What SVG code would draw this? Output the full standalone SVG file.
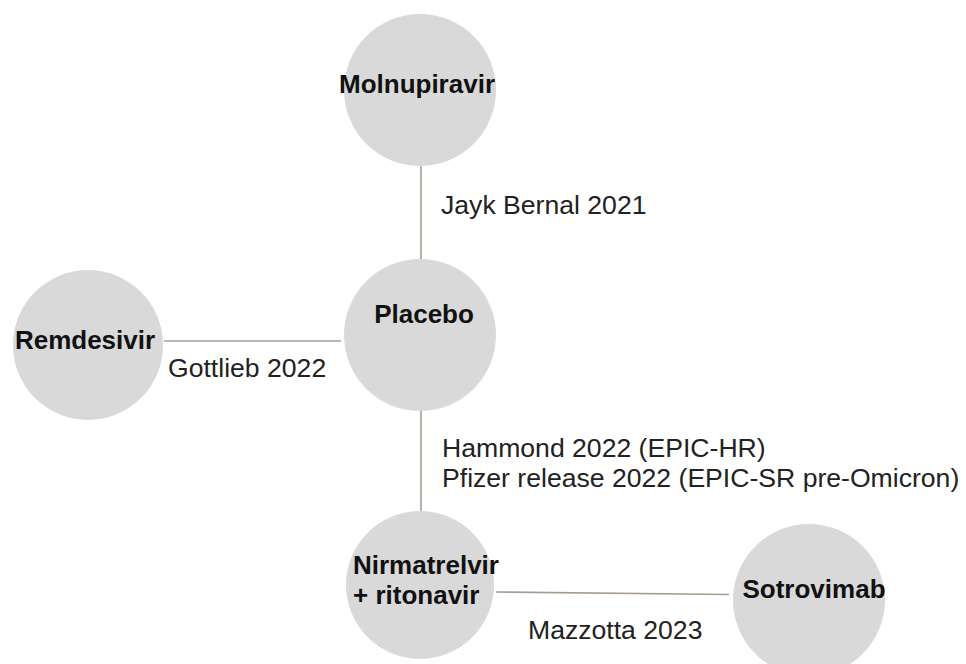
<svg xmlns="http://www.w3.org/2000/svg" width="966" height="664" viewBox="0 0 966 664">
  <style>
    .node circle { fill: #d9d9d9; }
    .name { font-family: "Liberation Sans", Arial, sans-serif; font-size: 26px; font-weight: bold; fill: #111; }
    .study { font-family: "Liberation Sans", Arial, sans-serif; font-size: 26.6px; fill: #222; }
    .edge { stroke: #a89c90; stroke-width: 1.6; fill: none; }
  </style>
  <rect width="966" height="664" fill="#ffffff"/>

  <!-- connectors between treatments, with their study labels -->
  <g id="connectors">
    <line class="edge" x1="421" y1="166" x2="421" y2="260"/>
    <line class="edge" x1="164" y1="341" x2="341" y2="341"/>
    <line class="edge" x1="421" y1="410" x2="421" y2="511"/>
    <line class="edge" x1="496" y1="592" x2="729" y2="594.5"/>
    <text class="study" x="441" y="214">Jayk Bernal 2021</text>
    <text class="study" x="168" y="377">Gottlieb 2022</text>
    <text class="study" x="442" y="457">Hammond 2022 (EPIC-HR)</text>
    <text class="study" x="442" y="487">Pfizer release 2022 (EPIC-SR pre-Omicron)</text>
    <text class="study" x="528" y="639">Mazzotta 2023</text>
  </g>

  <g id="molnupiravir" class="node">
    <circle cx="420" cy="90" r="76"/>
    <text class="name" x="417" y="93" text-anchor="middle">Molnupiravir</text>
  </g>

  <g id="placebo" class="node">
    <circle cx="420" cy="335" r="76"/>
    <text class="name" x="424" y="323" text-anchor="middle">Placebo</text>
  </g>

  <g id="remdesivir" class="node">
    <circle cx="88" cy="345" r="75"/>
    <text class="name" x="85" y="349" text-anchor="middle">Remdesivir</text>
  </g>

  <g id="nirmatrelvir" class="node">
    <circle cx="420" cy="585" r="74"/>
    <text class="name" x="353" y="574">Nirmatrelvir</text>
    <text class="name" x="353" y="604">+ ritonavir</text>
  </g>

  <g id="sotrovimab" class="node">
    <circle cx="809" cy="600" r="76"/>
    <text class="name" x="814" y="598" text-anchor="middle">Sotrovimab</text>
  </g>
</svg>
